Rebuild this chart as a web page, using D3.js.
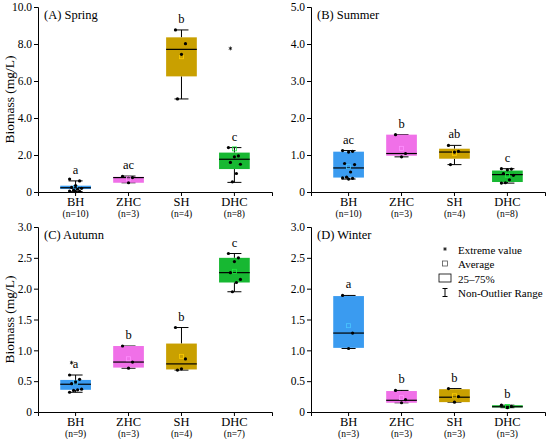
<!DOCTYPE html>
<meta charset="utf-8">
<script src="https://d3js.org/d3.v7.min.js"></script>
<style>
    body { margin: 0; background: #fff; }
    text { font-family: "Liberation Serif", "Times New Roman", serif; fill: #000; }
    .axis path, .axis line { stroke: #000; stroke-width: 1; }
</style>
<body>
<div id="chart"></div>
<script>
    // groups and panel titles
    var groups = ["BH", "ZHC", "SH", "DHC"];
    var titles = ["(A) Spring", "(B) Summer", "(C) Autumn", "(D) Winter"];

    // y tick values per panel
    var springTicks = [0, 2, 4, 6, 8, 10];
    var summerTicks = [0, 1, 2, 3, 4, 5];
    var autumnTicks = [0, 0.5, 1, 1.5, 2, 2.5, 3];
    var winterTicks = [0, 0.5, 1, 1.5, 2, 2.5, 3];

    // sample sizes
    var springN = [10, 3, 4, 8];
    var summerN = [10, 3, 4, 8];
    var autumnN = [9, 3, 4, 7];
    var winterN = [3, 3, 3, 3];

    // box stats: [whisker low, q1, median, q3, whisker high]
    var springBox = [[0.02, 0.16, 0.23, 0.34, 0.6], [0.5, 0.5, 0.78, 0.82, 0.86], [5.03, 6.25, 7.71, 8.36, 8.76], [0.52, 1.24, 1.77, 2.13, 2.4]];
    var summerBox = [[0.35, 0.39, 0.65, 1.09, 1.12], [0.95, 0.98, 1.04, 1.55, 1.55], [0.74, 0.9, 1.08, 1.17, 1.26], [0.24, 0.27, 0.47, 0.58, 0.63]];
    var autumnBox = [[0.32, 0.36, 0.45, 0.52, 0.6], [0.71, 0.72, 0.81, 1.07, 1.07], [0.68, 0.69, 0.78, 1.11, 1.37], [1.95, 2.1, 2.26, 2.5, 2.57]];
    var winterBox = [[1.03, 1.04, 1.28, 1.88, 1.89], [0.15, 0.15, 0.19, 0.34, 0.35], [0.16, 0.16, 0.24, 0.37, 0.38], [0.07, 0.075, 0.085, 0.11, 0.11]];

    // raw sample points
    var springPoints = [[0.7, 0.6, 0.35, 0.25, 0.2, 0.15, 0.1, 0.05, 0.04, 0.02], [0.84, 0.78, 0.5], [8.76, 8.02, 7.44, 5.03], [2.4, 1.95, 1.9, 1.6, 1.5, 1.0, 0.55]];
    var summerPoints = [[1.12, 1.1, 1.08, 0.77, 0.74, 0.54, 0.4, 0.38, 0.37, 0.35], [1.55, 1.04, 0.95], [1.26, 1.1, 1.08, 0.74], [0.63, 0.62, 0.6, 0.5, 0.45, 0.33, 0.25, 0.24]];
    var autumnPoints = [[0.6, 0.53, 0.49, 0.46, 0.37, 0.36, 0.35, 0.32], [1.07, 0.81, 0.71], [1.37, 0.86, 0.7, 0.68], [2.57, 2.5, 2.44, 2.26, 2.15, 2.1, 1.95]];
    var winterPoints = [[1.89, 1.28, 1.03], [0.35, 0.2, 0.15], [0.38, 0.25, 0.16], [0.11, 0.09, 0.07]];

    // extreme values
    var springOut = [[], [], [], [7.76]];
    var summerOut = [[], [], [], []];
    var autumnOut = [[0.8], [], [], []];
    var winterOut = [[], [], [], []];

    // significance letters
    var springLetters = ["a", "ac", "b", "c"];
    var summerLetters = ["ac", "b", "ab", "c"];
    var autumnLetters = ["a", "b", "b", "c"];
    var winterLetters = ["a", "b", "b", "b"];

    var colors = ["#3a9bf0", "#f070e8", "#c9a000", "#17b832"];

    var legendLabels = ["Extreme value", "Average", "25\u201375%", "Non-Outlier Range"];

    var svg = d3.select("#chart").append("svg")
        .attr("width", 550)
        .attr("height", 439);

    var panels = [
        { left: 38, top: 7, ticks: springTicks, n: springN, box: springBox, pts: springPoints, out: springOut, letters: springLetters, yTitle: true },
        { left: 311, top: 7, ticks: summerTicks, n: summerN, box: summerBox, pts: summerPoints, out: summerOut, letters: summerLetters },
        { left: 38, top: 227, ticks: autumnTicks, n: autumnN, box: autumnBox, pts: autumnPoints, out: autumnOut, letters: autumnLetters, yTitle: true },
        { left: 311, top: 227, ticks: winterTicks, n: winterN, box: winterBox, pts: winterPoints, out: winterOut, letters: winterLetters, legend: true }
    ];

    var width = 234, height = 185;
    var fmt = function(d) { return d === 0 ? "0" : d3.format(".1f")(d); };

    panels.forEach(function(p, k) {
        var g = svg.append("g").attr("transform", "translate(" + p.left + "," + p.top + ")");

        var x = d3.scaleBand().domain(groups).range([0, width]).padding(0.42);
        var y = d3.scaleLinear().domain([0, d3.max(p.ticks)]).range([height, 0]);
        var cx = function(i) { return x(groups[i]) + x.bandwidth() / 2; };

        // axes
        g.append("g").attr("class", "axis")
            .call(d3.axisLeft(y).tickValues(p.ticks).tickFormat(fmt).tickSizeOuter(0).tickSize(4).tickPadding(2))
            .selectAll("text").style("font-size", "11.5px");

        var xa = g.append("g").attr("class", "axis")
            .attr("transform", "translate(0," + height + ")")
            .call(d3.axisBottom(x).tickSizeOuter(0).tickSize(4).tickPadding(1));
        xa.selectAll(".tick text").style("font-size", "12.5px");
        xa.selectAll(".tick").append("text")
            .attr("y", 25)
            .attr("text-anchor", "middle")
            .style("font-size", "9.5px")
            .text(function(d) { return "(n=" + p.n[groups.indexOf(d)] + ")"; });

        // panel title
        g.append("text")
            .attr("x", 6).attr("y", 12)
            .style("font-size", "12.5px")
            .text(titles[k]);

        if (p.yTitle) {
            g.append("text")
                .attr("transform", "translate(" + (-24) + "," + (height / 2) + ") rotate(-90)")
                .attr("text-anchor", "middle")
                .style("font-size", "13.5px")
                .text("Biomass (mg/L)");
        }

        var bw = x.bandwidth();
        var cap = 7;

        groups.forEach(function(gr, i) {
            var b = p.box[i], c = cx(i);
            var bg = g.append("g");

            // whiskers
            bg.append("line").attr("x1", c).attr("x2", c).attr("y1", y(b[4])).attr("y2", y(b[3])).attr("stroke", "#000");
            bg.append("line").attr("x1", c).attr("x2", c).attr("y1", y(b[1])).attr("y2", y(b[0])).attr("stroke", "#000");
            bg.append("line").attr("x1", c - cap).attr("x2", c + cap).attr("y1", y(b[4])).attr("y2", y(b[4])).attr("stroke", "#000");
            bg.append("line").attr("x1", c - cap).attr("x2", c + cap).attr("y1", y(b[0])).attr("y2", y(b[0])).attr("stroke", "#000");

            // box
            bg.append("rect")
                .attr("x", c - bw / 2).attr("width", bw)
                .attr("y", y(b[3])).attr("height", Math.max(1.5, y(b[1]) - y(b[3])))
                .attr("fill", colors[i]);

            // median
            bg.append("line").attr("x1", c - bw / 2).attr("x2", c + bw / 2)
                .attr("y1", y(b[2])).attr("y2", y(b[2]))
                .attr("stroke", "#000").attr("stroke-width", 1.2);

            // average
            var all = p.pts[i].concat(p.out[i]);
            var m = d3.mean(all);
            bg.append("rect")
                .attr("x", c - 2).attr("y", y(m) - 2)
                .attr("width", 4).attr("height", 4)
                .attr("fill", "none")
                .attr("stroke", d3.color(colors[i]).brighter(0.7))
                .attr("stroke-width", 0.8);

            // points
            bg.selectAll("circle").data(p.pts[i]).enter().append("circle")
                .attr("cx", function(d, j) { return c + ((j * 5) % 7 - 3) * 2; })
                .attr("cy", function(d) { return y(d); })
                .attr("r", 1.6)
                .attr("fill", "#000");

            // extreme values
            bg.selectAll(".ext").data(p.out[i]).enter().append("path")
                .attr("class", "ext")
                .attr("transform", function(d) { return "translate(" + (c - 4) + "," + y(d) + ")"; })
                .attr("d", d3.symbol(d3.symbolAsterisk, 10))
                .attr("stroke", "#000").attr("stroke-width", 0.8).attr("fill", "none");

            // letter
            bg.append("text")
                .attr("x", c).attr("y", y(b[4]) - 7)
                .attr("text-anchor", "middle")
                .style("font-size", "12.5px")
                .text(p.letters[i]);
        });

        if (p.legend) {
            var lx = 134, ly = 22, step = 14.5;
            var lg = g.append("g");
            lg.append("path")
                .attr("transform", "translate(" + lx + "," + ly + ")")
                .attr("d", d3.symbol(d3.symbolAsterisk, 10))
                .attr("stroke", "#000").attr("stroke-width", 0.8);
            lg.append("rect").attr("x", lx - 2.5).attr("y", ly + step - 2.5).attr("width", 5).attr("height", 5)
                .attr("fill", "none").attr("stroke", "#555").attr("stroke-width", 0.8);
            lg.append("rect").attr("x", lx - 6).attr("y", ly + 2 * step - 4).attr("width", 12).attr("height", 8)
                .attr("fill", "none").attr("stroke", "#000").attr("stroke-width", 0.8);
            lg.append("line").attr("x1", lx).attr("x2", lx).attr("y1", ly + 3 * step - 4).attr("y2", ly + 3 * step + 4).attr("stroke", "#000");
            lg.append("line").attr("x1", lx - 2.5).attr("x2", lx + 2.5).attr("y1", ly + 3 * step - 4).attr("y2", ly + 3 * step - 4).attr("stroke", "#000");
            lg.append("line").attr("x1", lx - 2.5).attr("x2", lx + 2.5).attr("y1", ly + 3 * step + 4).attr("y2", ly + 3 * step + 4).attr("stroke", "#000");
            lg.selectAll("text").data(legendLabels).enter().append("text")
                .attr("x", lx + 13)
                .attr("y", function(d, i) { return ly + i * step + 4.5; })
                .style("font-size", "11px")
                .text(function(d) { return d; });
        }
    });
</script>
</body>
